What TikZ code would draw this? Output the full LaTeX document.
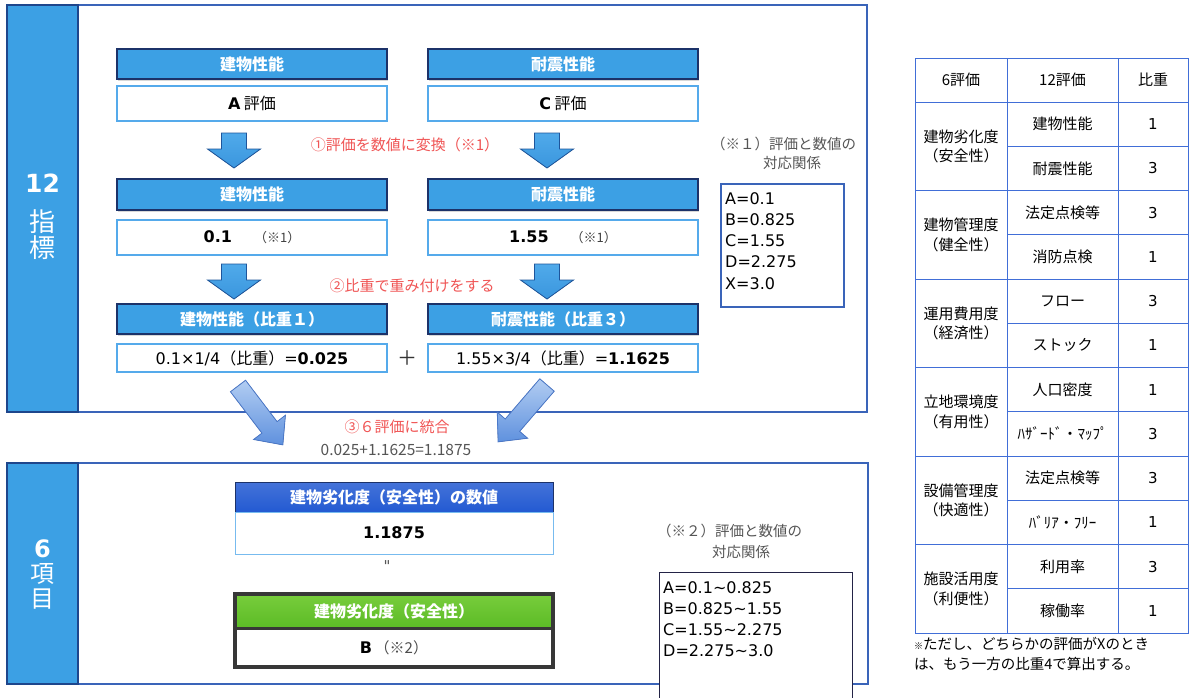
\documentclass[tikz,border=0pt]{standalone}
\usepackage{fontspec}
\setmainfont{Noto Sans CJK JP}
\newfontfamily\vd{DejaVu Sans}
\usetikzlibrary{shadows}
\newcommand\fs[2]{\fontsize{#1}{#2}\selectfont}
\definecolor{hdrblue}{RGB}{60,160,228}
\definecolor{hdrborder}{RGB}{28,50,105}
\definecolor{valborder}{RGB}{85,170,235}
\definecolor{panelborder}{RGB}{58,100,185}
\definecolor{barblue}{RGB}{60,160,228}
\definecolor{barborder}{RGB}{30,70,140}
\definecolor{arrblue}{RGB}{58,150,222}
\definecolor{arrblueL}{RGB}{80,170,234}
\definecolor{arrborder}{RGB}{30,85,155}
\definecolor{dlight}{RGB}{178,205,242}
\definecolor{ddark}{RGB}{95,145,222}
\definecolor{dborder}{RGB}{75,120,200}
\definecolor{darkhdr}{RGB}{35,90,210}
\definecolor{greenhdr}{RGB}{92,187,38}
\definecolor{greenhdrL}{RGB}{120,205,60}
\definecolor{redtxt}{RGB}{240,85,85}
\definecolor{graytxt}{RGB}{85,85,85}
\definecolor{tabline}{RGB}{65,110,215}
\definecolor{boxdark}{RGB}{35,35,70}
\definecolor{greenbox}{RGB}{55,55,55}
\begin{document}
\begin{tikzpicture}[x=1pt,y=-1pt,
  hdr/.style={draw=hdrborder, line width=1.2pt, fill=hdrblue, text=white,
    minimum width=270pt, minimum height=30pt, inner sep=0pt,
    font=\fs{16}{19}\bfseries,
    drop shadow={shadow xshift=1.2pt, shadow yshift=-1.5pt, opacity=0.3}},
  val/.style={draw=valborder, line width=1.2pt, fill=white,
    minimum width=270pt, minimum height=35pt, inner sep=0pt, font=\fs{16}{19}},
  panelbox/.style={draw=panelborder, line width=1.3pt, fill=white, inner sep=0pt},
  bar/.style={draw=barborder, line width=1.3pt, fill=barblue, inner sep=0pt},
  bartxt/.style={text=white, inner sep=0pt, align=center},
  blockarr/.style={draw=arrborder, line width=0.8pt, top color=arrblueL, bottom color=arrblue},
  diagarr/.style={draw=dborder, line width=0.8pt, top color=dlight, bottom color=ddark},
  redlab/.style={text=redtxt, inner sep=0pt, font=\fs{15}{18}},
  graylab/.style={text=graytxt, inner sep=0pt, font=\fs{14.5}{18}},
  tabl/.style={draw=tabline, line width=1pt},
  tabtxt/.style={inner sep=0pt, align=center, font=\fs{15}{19.5}},
  tabnum/.style={inner sep=0pt, font=\vd\fs{15}{18}}
]
\useasboundingbox (0,0) rectangle (1190,697);

% ===== top panel =====
\node[panelbox, minimum width=860pt, minimum height=407pt] (top) at (437,208.5) {};
\node[bar, minimum width=71pt, minimum height=407pt] (topbar) at (42.5,208.5) {};
\node[bartxt, font=\vd\bfseries\fs{25}{26}] (t12) at (42.5,183) {12};
\node[bartxt, font=\fs{26}{26}] (tzhi) at (42.5,235) {指\\標};

% row 1
\node[hdr] (h1L) at (252,64) {建物性能};
\node[hdr] (h1R) at (563,64) {耐震性能};
\node[val] (v1L) at (252,103.5) {{\vd\bfseries A} 評価};
\node[val] (v1R) at (563,103.5) {{\vd\bfseries C} 評価};

% arrows 1
\begin{scope}[shift={(234,133)}]
  \filldraw[blockarr] (-12.5,0) -- (12.5,0) -- (12.5,16) -- (26.5,16) -- (0,35) -- (-26.5,16) -- (-12.5,16) -- cycle;
\end{scope}
\begin{scope}[shift={(547,133)}]
  \filldraw[blockarr] (-12.5,0) -- (12.5,0) -- (12.5,16) -- (26.5,16) -- (0,35) -- (-26.5,16) -- (-12.5,16) -- cycle;
\end{scope}
\node[redlab] (lab1) at (405,145) {①評価を数値に変換（※1）};

% row 2
\node[hdr, minimum height=31pt] (h2L) at (252,194.5) {建物性能};
\node[hdr, minimum height=31pt] (h2R) at (563,194.5) {耐震性能};
\node[val] (v2L) at (252,237.5) {{\vd\bfseries 0.1}\hspace{22pt}{\fs{13}{15}\color{black!75}（※1）}};
\node[val] (v2R) at (563,237.5) {{\vd\bfseries 1.55}\hspace{22pt}{\fs{13}{15}\color{black!75}（※1）}};

% arrows 2
\begin{scope}[shift={(234,264)}]
  \filldraw[blockarr] (-12.5,0) -- (12.5,0) -- (12.5,16) -- (26.5,16) -- (0,35) -- (-26.5,16) -- (-12.5,16) -- cycle;
\end{scope}
\begin{scope}[shift={(547,264)}]
  \filldraw[blockarr] (-12.5,0) -- (12.5,0) -- (12.5,16) -- (26.5,16) -- (0,35) -- (-26.5,16) -- (-12.5,16) -- cycle;
\end{scope}
\node[redlab] (lab2) at (412,286) {②比重で重み付けをする};

% row 3
\node[hdr] (h3L) at (252,319) {建物性能（比重１）};
\node[hdr] (h3R) at (563,319) {耐震性能（比重３）};
\node[val, minimum height=28pt] (v3L) at (252,358) {{\vd 0.1×1/4}（比重）{\vd =\bfseries 0.025}};
\node[val, minimum height=28pt] (v3R) at (563,358) {{\vd 1.55×3/4}（比重）{\vd =\bfseries 1.1625}};
\node[inner sep=0pt, font=\fs{20}{22}, text=black!80] (plus) at (407,358) {＋};

% note 1
\node[graylab, anchor=west] (n1a) at (711,144) {（※１）評価と数値の};
\node[graylab, anchor=west] (n1b) at (763,163) {対応関係};
\node[draw=panelborder, line width=1.3pt, fill=white, minimum width=123pt, minimum height=123pt, inner sep=0pt] (box1) at (782.5,245.5) {};
\node[anchor=north west, inner sep=0pt, align=left, font=\vd\fs{16}{21.3}] (box1t) at (725,192)
  {A=0.1\\B=0.825\\C=1.55\\D=2.275\\X=3.0};

% ===== bottom panel =====
\node[panelbox, minimum width=861pt, minimum height=221pt] (bot) at (437.5,573.5) {};
\node[bar, minimum width=71pt, minimum height=221pt] (botbar) at (42.5,573.5) {};
\node[bartxt, font=\vd\bfseries\fs{24}{25}] (t6) at (42.5,549) {6};
\node[bartxt, font=\fs{24}{25}] (tko) at (42.5,586.5) {項\\目};

% diagonal arrows
\begin{scope}[shift={(238,386)}, rotate=-52.7]
  \filldraw[diagarr] (0,-9.5) -- (52,-9.5) -- (52,-20) -- (74,0) -- (52,20) -- (52,9.5) -- (0,9.5) -- cycle;
\end{scope}
\begin{scope}[shift={(547,385)}, rotate=-130.7]
  \filldraw[diagarr] (0,-9.5) -- (53,-9.5) -- (53,-20) -- (75,0) -- (53,20) -- (53,9.5) -- (0,9.5) -- cycle;
\end{scope}
\node[redlab] (lab3) at (397,427) {③６評価に統合};
\node[graylab, font=\fs{15.5}{18}] (sum) at (396,450) {0.025+1.1625=1.1875};

% result boxes
\node[draw=hdrborder, line width=1pt, top color=darkhdr!85!white, bottom color=darkhdr, text=white,
  minimum width=318pt, minimum height=30pt, inner sep=0pt, font=\fs{16}{19}\bfseries] (bH) at (394,497) {建物劣化度（安全性）の数値};
\node[draw=valborder!80!white, line width=1pt, fill=white, minimum width=318pt, minimum height=42pt,
  inner sep=0pt, font=\vd\bfseries\fs{16}{19}] (bV) at (394,533) {1.1875};
\node[inner sep=0pt, font=\vd\fs{15}{17}, text=graytxt] (eq) at (387,566) {"};
\node[top color=greenhdrL, bottom color=greenhdr, text=white, minimum width=318pt, minimum height=34pt,
  inner sep=0pt, font=\fs{16}{19}\bfseries] (gH) at (394,611) {建物劣化度（安全性）};
\node[fill=white, minimum width=318pt, minimum height=39pt, inner sep=0pt, font=\fs{15}{18}] (gV) at (394,647.5)
  {{\vd\bfseries\fs{16}{19}B}\,{\color{black!70}（※2）}};
\draw[greenbox, line width=3.5pt] (gH.north west) rectangle (gV.south east);
\draw[greenbox, line width=3pt] (gH.south west) -- (gH.south east);

% note 2
\node[graylab, anchor=west] (n2a) at (657,531) {（※２）評価と数値の};
\node[graylab, anchor=west] (n2b) at (712,552) {対応関係};
\node[draw=boxdark, line width=1.2pt, fill=white, minimum width=193pt, minimum height=135pt, inner sep=0pt,
  anchor=north west] (box2) at (659,572) {};
\node[anchor=north west, inner sep=0pt, align=left, font=\vd\fs{16}{21.3}] (box2t) at (663,581)
  {A=0.1∼0.825\\B=0.825∼1.55\\C=1.55∼2.275\\D=2.275∼3.0};

% ===== table =====
\node[tabtxt] (th1) at (961,80) {6評価};
\node[tabtxt] (th2) at (1062.5,80) {12評価};
\node[tabtxt] (th3) at (1153,80) {比重};
\foreach \i/\a/\b/\c/\d/\e/\f in {
  0/建物劣化度/安全性/建物性能/1/耐震性能/3,
  1/建物管理度/健全性/法定点検等/3/消防点検/1,
  2/運用費用度/経済性/フロー/3/ストック/1,
  3/立地環境度/有用性/人口密度/1/ﾊｻﾞｰﾄﾞ・ﾏｯﾌﾟ/3,
  4/設備管理度/快適性/法定点検等/3/ﾊﾞﾘｱ・ﾌﾘｰ/1,
  5/施設活用度/利便性/利用率/3/稼働率/1}{
  \pgfmathsetmacro\yt{102+88.5*\i}
  \node[tabtxt] (grp\i) at (961,\yt+44.25) {\a\\（\b）};
  \node[tabtxt] (sa\i) at (1062.5,\yt+22.1) {\c};
  \node[tabnum] (wa\i) at (1153,\yt+22.1) {\d};
  \node[tabtxt] (sb\i) at (1062.5,\yt+66.4) {\e};
  \node[tabnum] (wb\i) at (1153,\yt+66.4) {\f};
  \draw[tabl] (1007,\yt+44.25) -- (1188,\yt+44.25);
  \draw[tabl] (915,\yt) -- (1188,\yt);
}
\draw[tabl] (915,58) rectangle (1188,633);
\draw[tabl] (1007,58) -- (1007,633);
\draw[tabl] (1118,58) -- (1118,633);
\node[anchor=north west, inner sep=0pt, align=left, font=\fs{14.5}{20}] (tnote) at (914,637)
  {{\fs{9}{10}※}ただし、どちらかの評価がXのとき\\は、もう一方の比重4で算出する。};
\end{tikzpicture}
\end{document}
